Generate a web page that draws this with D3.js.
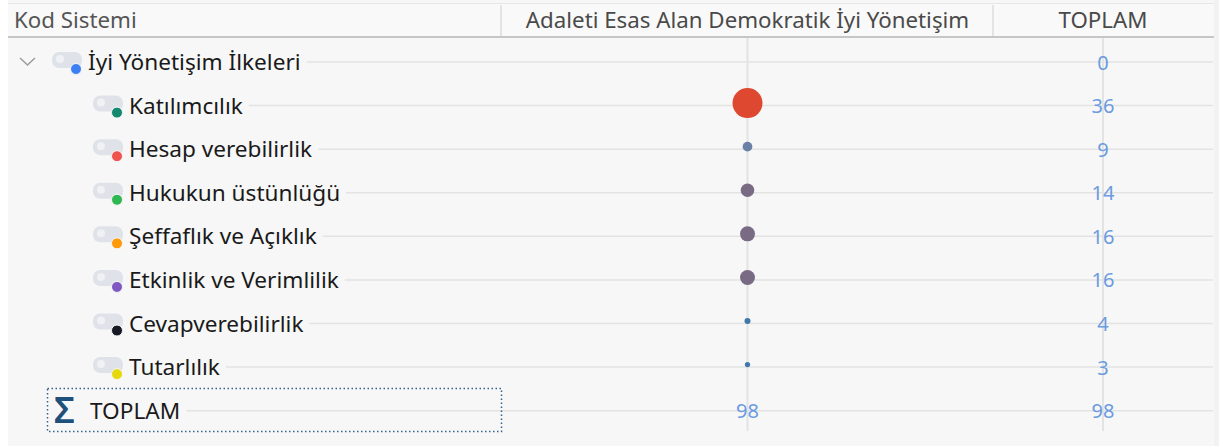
<!DOCTYPE html>
<html>
<head>
<meta charset="utf-8">
<script src="https://cdn.jsdelivr.net/npm/d3@7"></script>
<style>
  html, body { margin: 0; padding: 0; background: #ffffff; }
  svg { display: block; font-family: "Noto Sans", "Open Sans", sans-serif; }
</style>
</head>
<body>
<script>
// 欄位標題
const columns = ["Kod Sistemi", "Adaleti Esas Alan Demokratik İyi Yönetişim", "TOPLAM"];

// 代碼（層級：0 = 上層，1 = 子代碼）
const codes = [
  "İyi Yönetişim İlkeleri",
  "Katılımcılık",
  "Hesap verebilirlik",
  "Hukukun üstünlüğü",
  "Şeffaflık ve Açıklık",
  "Etkinlik ve Verimlilik",
  "Cevapverebilirlik",
  "Tutarlılık",
];
const levels = [0, 1, 1, 1, 1, 1, 1, 1];

// 文件欄數值與總計
const docValues = [0, 36, 9, 14, 16, 16, 4, 3];
const totals = [0, 36, 9, 14, 16, 16, 4, 3];
const sumLabel = "TOPLAM";

// 代碼顏色
const codeColors = ["#3b7ff2", "#138a6f", "#ef5350", "#2fb851", "#ff9a0a", "#7e57c2", "#151a24", "#e6d90a"];

const width = 1219, height = 446;

let svg = d3.select("body")
  .append("svg")
  .attr("width", width)
  .attr("height", height);

// 背景
svg.append("rect").attr("x", 8).attr("y", 0).attr("width", width - 8).attr("height", height).attr("fill", "#f7f7f7");
svg.append("rect").attr("x", 8).attr("y", 3).attr("width", 1206).attr("height", 34).attr("fill", "#f9f9f9");
svg.append("line").attr("x1", 8).attr("x2", 1214).attr("y1", 3.5).attr("y2", 3.5).attr("stroke", "#e6e6e6");
svg.append("rect").attr("x", 1214).attr("y", 0).attr("width", 5).attr("height", height).attr("fill", "#f2f2f2");

// 欄位位置
const colEdges = [8, 501, 993, 1214];
const colCenter = [null, 747.5, 1103];

// 列位置
const rows = codes.concat([sumLabel]);
let y = d3.scalePoint()
  .domain(rows)
  .range([62, 410.7]);

// 圓點大小與顏色
let r = d3.scaleLinear().domain([0, 36]).range([1.5, 15]);
let dotColor = d3.scaleThreshold()
  .domain([6, 12, 30])
  .range(["#3f78aa", "#6a80a6", "#7a6b84", "#de4830"]);

// 標題
svg.append("text")
  .attr("x", 14).attr("y", 28)
  .attr("font-size", 22.3).attr("fill", "#555")
  .text(columns[0]);
[1, 2].forEach(i => {
  svg.append("text")
    .attr("x", colCenter[i]).attr("y", 28)
    .attr("text-anchor", "middle")
    .attr("font-size", 22.3).attr("fill", "#4a4a4a")
    .text(columns[i]);
});
[1, 2].forEach(i => {
  svg.append("line")
    .attr("x1", colEdges[i]).attr("x2", colEdges[i])
    .attr("y1", 5).attr("y2", 36)
    .attr("stroke", "#cfcfcf");
});
svg.append("line").attr("x1", 8).attr("x2", 1214).attr("y1", 37).attr("y2", 37)
  .attr("stroke", "#c6c6c6").attr("stroke-width", 2);

// 直線
[1, 2].forEach(i => {
  svg.append("line")
    .attr("x1", colCenter[i]).attr("x2", colCenter[i])
    .attr("y1", 38).attr("y2", 431)
    .attr("stroke", "#e3e3e3").attr("stroke-width", 2);
});

// 標籤
let labelX = (i) => 88 + 41 * levels[i];
let labels = [];

codes.forEach((name, i) => {
  let ry = y(name), tx = labelX(i);
  if (levels[i] === 0) {
    svg.append("path")
      .attr("d", `M20,${ry - 4} L27.5,${ry + 3} L35,${ry - 4}`)
      .attr("fill", "none").attr("stroke", "#9c9c9c").attr("stroke-width", 1.5);
  }
  svg.append("rect")
    .attr("x", tx - 36).attr("y", ry - 10)
    .attr("width", 30).attr("height", 16).attr("rx", 7)
    .attr("fill", "#dfe3e9");
  svg.append("circle")
    .attr("cx", tx - 28).attr("cy", ry - 3).attr("r", 4)
    .attr("fill", "#eff1f4");
  svg.append("circle")
    .attr("cx", tx - 12).attr("cy", ry + 7).attr("r", 5.5)
    .attr("fill", codeColors[i]).attr("stroke", "#f7f7f7").attr("stroke-width", 1);
  labels.push(svg.append("text")
    .attr("x", tx).attr("y", ry + 8)
    .attr("font-size", 22.6).attr("fill", "#1a1a1a")
    .text(name));
});

// TOPLAM 列
let sumY = y(sumLabel);
svg.append("rect")
  .attr("x", 47.5).attr("y", 388.5).attr("width", 454).attr("height", 43)
  .attr("fill", "none").attr("stroke", "#35618c")
  .attr("stroke-width", 1.5).attr("stroke-dasharray", "1.5 2.5");
svg.append("text")
  .attr("x", 54).attr("y", sumY + 12)
  .attr("font-size", 36).attr("font-weight", 600).attr("fill", "#1f4f7b")
  .text("Σ");
labels.push(svg.append("text")
  .attr("x", 90).attr("y", sumY + 8)
  .attr("font-size", 22.6).attr("fill", "#1a1a1a")
  .text(sumLabel));

// 橫線（在標籤後面開始）
rows.forEach((name, i) => {
  let x0 = labels[i].node().getBBox();
  svg.insert("line", "rect + line")
    .attr("x1", x0.x + x0.width + 6).attr("x2", 1213)
    .attr("y1", y(name)).attr("y2", y(name))
    .attr("stroke", "#e3e3e3").attr("stroke-width", 1.5);
});

// 圓點
codes.forEach((name, i) => {
  if (docValues[i] <= 0) return;
  svg.append("circle")
    .attr("cx", colCenter[1]).attr("cy", y(name) - 2.5)
    .attr("r", r(docValues[i]))
    .attr("fill", dotColor(docValues[i]));
});

// 數值
let valueText = (xPos, yPos, v) => svg.append("text")
  .attr("x", xPos).attr("y", yPos + 7.5)
  .attr("text-anchor", "middle")
  .attr("font-size", 20).attr("fill", "#6b9be0")
  .text(v);

codes.forEach((name, i) => valueText(colCenter[2], y(name), totals[i]));
valueText(colCenter[1], sumY, d3.sum(docValues));
valueText(colCenter[2], sumY, d3.sum(totals));
</script>
</body>
</html>
